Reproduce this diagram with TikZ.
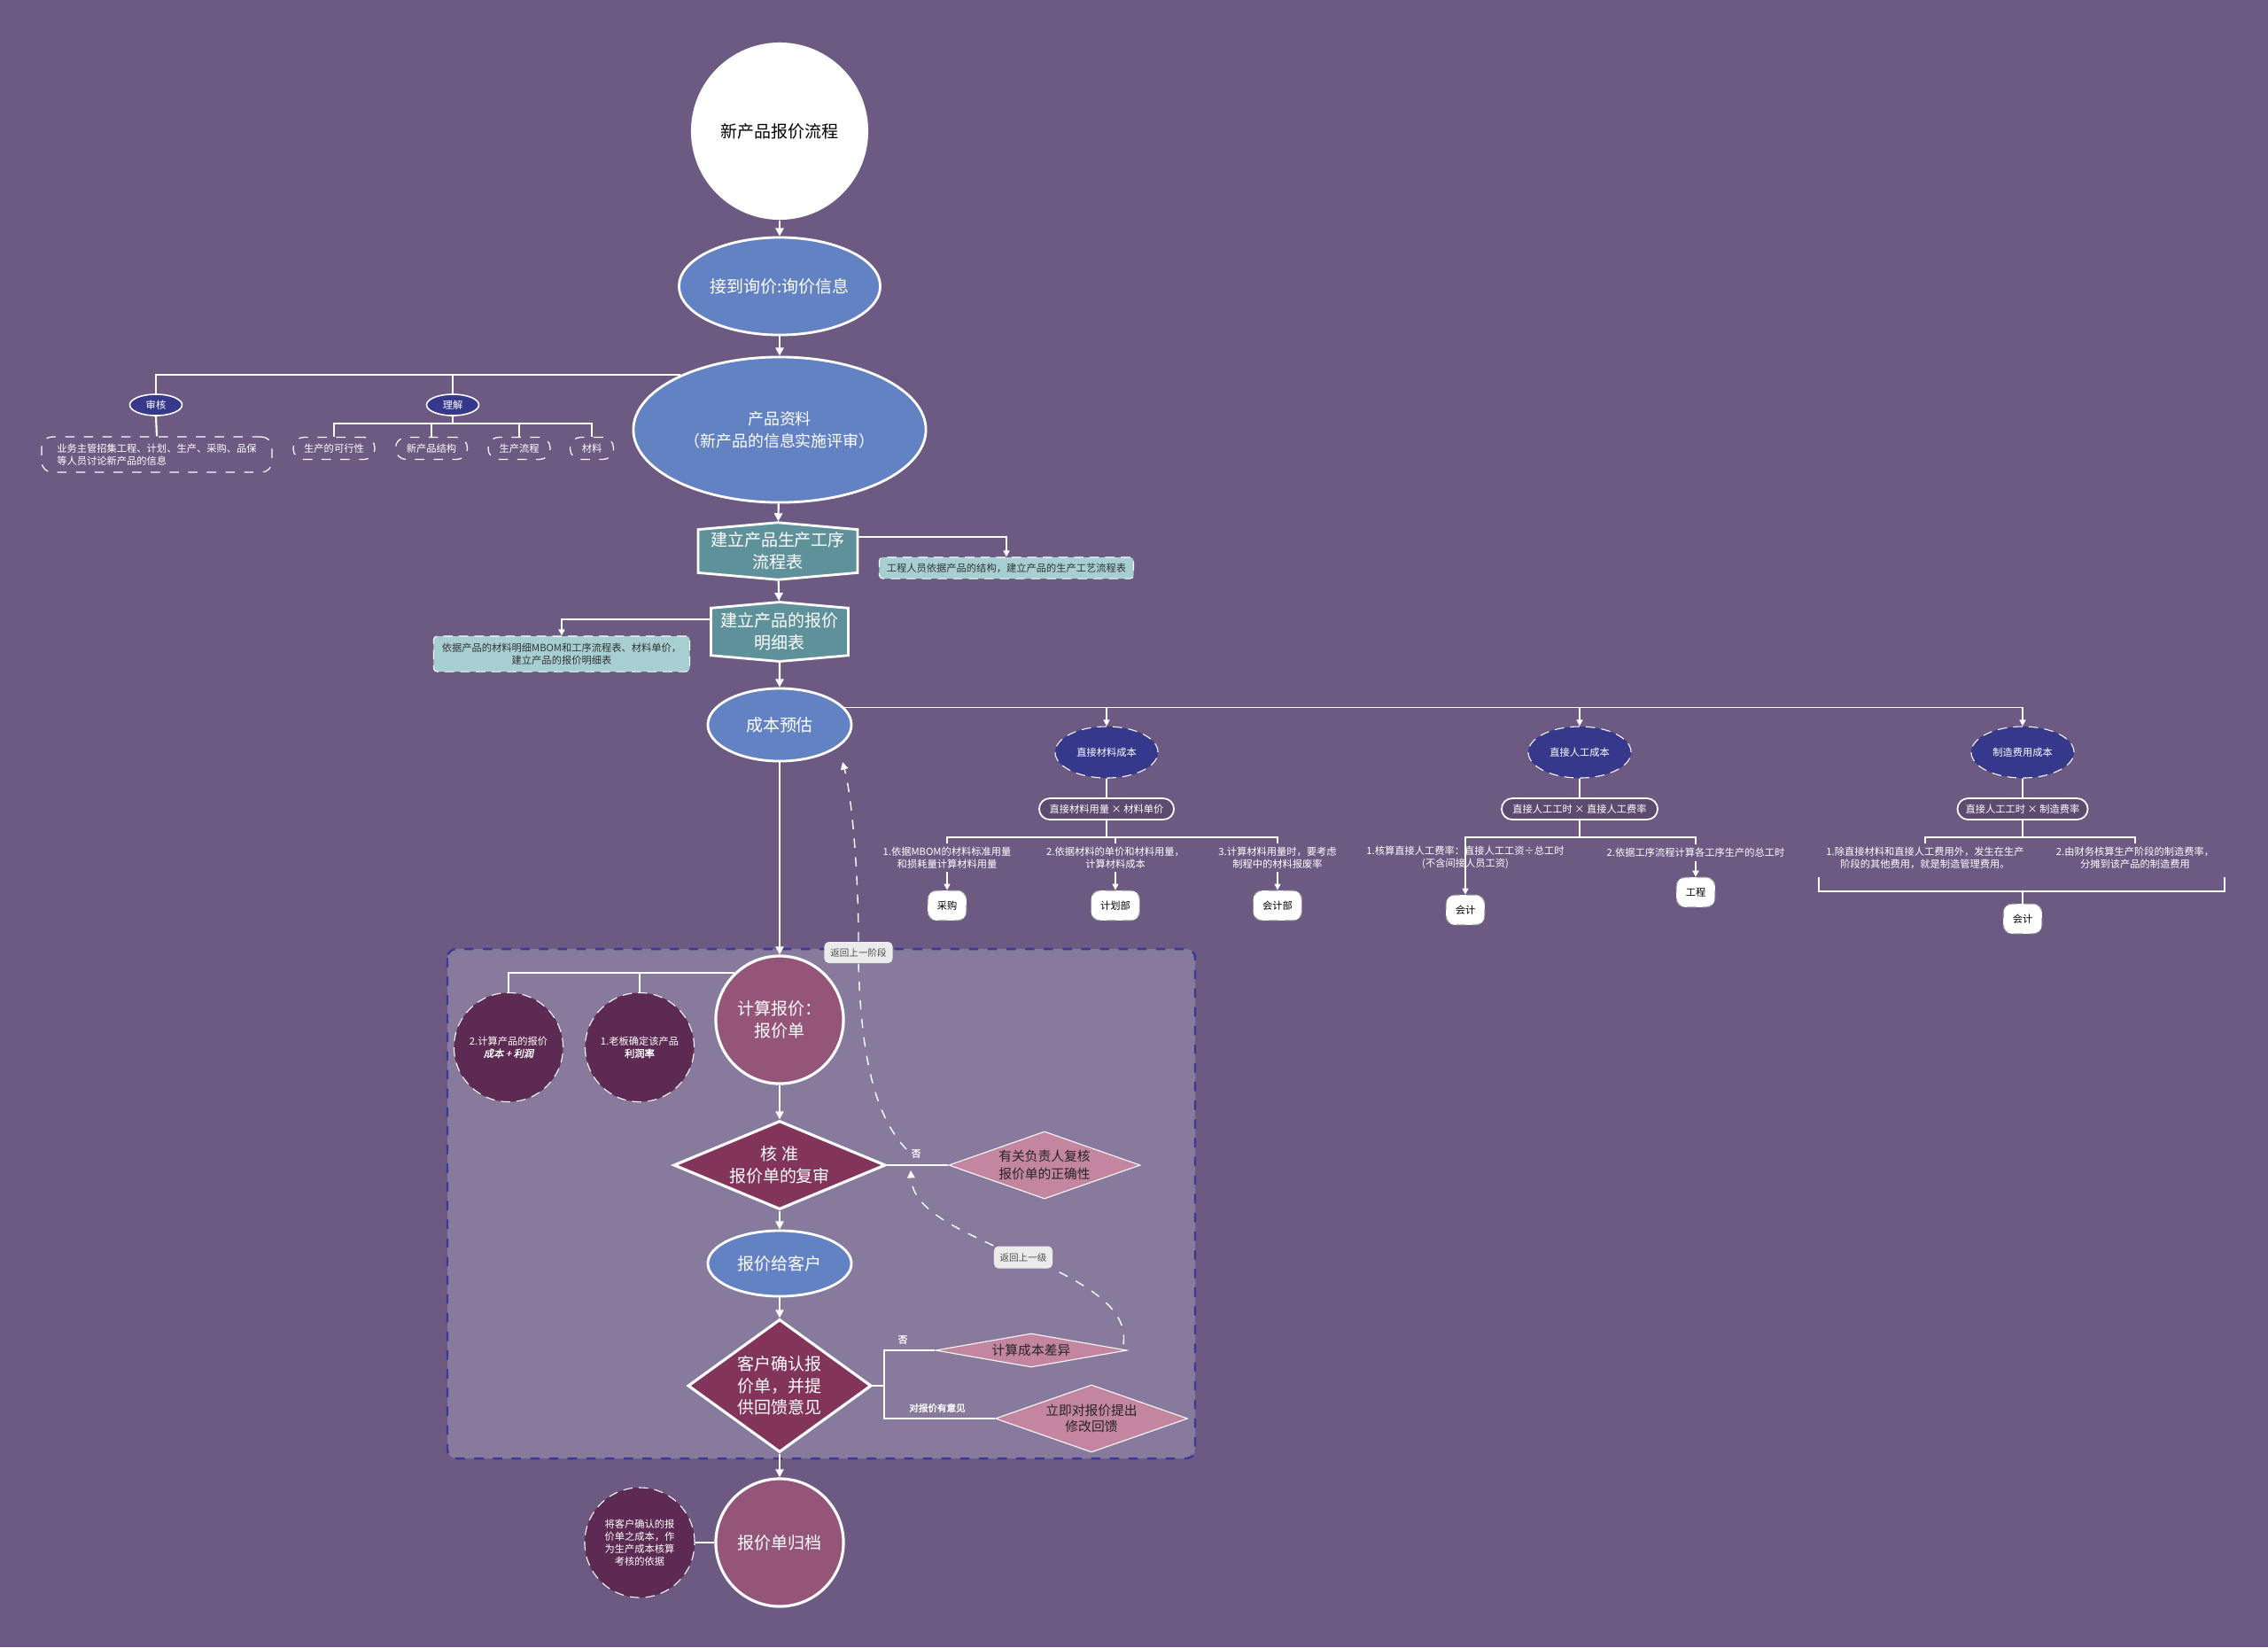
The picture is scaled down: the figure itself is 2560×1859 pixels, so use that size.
\documentclass[tikz,border=0pt]{standalone}
\usepackage{fontspec}
\setmainfont{Noto Sans CJK SC}
\newfontfamily\cjkbold[FakeBold=2]{Noto Sans CJK SC}
\newfontfamily\cjkbi[FakeBold=1.5,FakeSlant=0.2]{Noto Sans CJK SC}
\usetikzlibrary{arrows.meta,shapes.geometric,shapes.symbols}

\definecolor{bgpurple}{RGB}{108,90,130}
\definecolor{boxpurple}{RGB}{136,122,156}
\definecolor{boxline}{RGB}{58,58,150}
\definecolor{steelblue}{RGB}{99,130,196}
\definecolor{navyblue}{RGB}{54,56,140}
\definecolor{tealbox}{RGB}{95,145,155}
\definecolor{lightteal}{RGB}{167,207,209}
\definecolor{mauve}{RGB}{148,85,120}
\definecolor{plum}{RGB}{92,42,82}
\definecolor{wine}{RGB}{130,52,90}
\definecolor{pinkish}{RGB}{195,133,160}
\definecolor{pillfill}{RGB}{92,74,112}

\begin{document}
\begin{tikzpicture}[x=0.01cm,y=-0.01cm]
  \tikzset{
    big font/.style={font=\fontsize{5.4}{7}\selectfont},
    mid font/.style={font=\fontsize{4.2}{5.6}\selectfont},
    small font/.style={font=\fontsize{3.2}{3.9}\selectfont},
    main line/.style={draw=white,line width=0.6pt},
    thin line/.style={draw=white,line width=0.4pt},
    flow arrow/.style={main line,-{Triangle[length=2.6pt,width=2.6pt]}},
    thin arrow/.style={thin line,-{Triangle[length=2pt,width=2pt]}},
    return arrow/.style={draw=white,line width=0.4pt,dashed,-{Triangle[length=2.4pt,width=2.4pt]}},
    start circle/.style={circle,fill=white,minimum size=2cm,inner sep=0pt,big font,text=black},
    blue ellipse/.style={ellipse,fill=steelblue,draw=white,line width=0.8pt,inner sep=0pt,text=white,big font,align=center},
    navy ellipse/.style={ellipse,fill=navyblue,draw=white!85,densely dashed,line width=0.3pt,inner sep=0pt,text=white,small font},
    navy tag/.style={ellipse,fill=navyblue,draw=white,line width=0.45pt,inner sep=0pt,text=white,small font},
    hexa box/.style={signal,signal to=north and south,signal pointer angle=170,fill=tealbox,draw=white,line width=0.8pt,inner sep=0pt,text=white,big font,align=center},
    note box/.style={rounded corners=0.04cm,fill=lightteal,draw=white,densely dashed,line width=0.3pt,inner sep=1pt,text=black!80,small font,align=center},
    dash pill/.style={rounded corners=0.12cm,draw=white,dashed,line width=0.35pt,fill=bgpurple,inner sep=1pt,text=white,small font},
    formula pill/.style={rounded corners=0.12cm,draw=white,line width=0.5pt,fill=pillfill,inner sep=1pt,minimum height=0.24cm,text=white,small font},
    dept blob/.style={rounded corners=0.1cm,fill=white,draw=black!40,densely dashed,line width=0.3pt,inner xsep=3pt,minimum height=0.24cm,text=black,small font},
    child text/.style={text=white,small font,align=center,inner sep=1pt},
    mauve circle/.style={circle,fill=mauve,draw=white,line width=0.9pt,minimum size=1.44cm,inner sep=0pt,text=white,big font,align=center},
    plum circle/.style={circle,fill=plum,draw=white!85,densely dashed,line width=0.3pt,inner sep=0pt,text=white,small font,align=center},
    wine diamond/.style={diamond,fill=wine,draw=white,line width=0.9pt,inner sep=0pt,text=white,big font,align=center},
    pink diamond/.style={diamond,fill=pinkish,draw=white!80,line width=0.3pt,inner sep=0pt,text=black!85,mid font,align=center},
    back label/.style={rounded corners=0.05cm,fill=black!8,inner sep=1pt,text=black!70,font=\fontsize{3}{3.6}\selectfont},
    branch label/.style={text=white,inner sep=0pt,font=\fontsize{3}{3.6}\selectfont\cjkbold},
  }

  \fill[bgpurple] (0,0) rectangle (2560,1859);
  \useasboundingbox (0,0) rectangle (2560,1859);

  % quote stage frame
  \draw[boxline,dashed,fill=boxpurple,rounded corners=0.1cm,line width=0.7pt] (505,1071) rectangle (1349,1646);

  \node [start circle] (start) at (880,148) {新产品报价流程};
  \node [blue ellipse,minimum width=2.27cm,minimum height=1.1cm] (inquiry) at (880,323) {接到询价:询价信息};
  \node [blue ellipse,minimum width=3.3cm,minimum height=1.64cm,font=\fontsize{5.1}{7}\selectfont] (info) at (880,485) {产品资料\\（新产品的信息实施评审）};

  \node [navy tag,minimum width=0.59cm,minimum height=0.24cm] (review) at (176,457) {审核};
  \node [navy tag,minimum width=0.59cm,minimum height=0.24cm] (understand) at (511,457) {理解};
  \node [dash pill,minimum width=2.6cm,minimum height=0.4cm,align=left] (reviewnote) at (177,513) {业务主管招集工程、计划、生产、采购、品保\\等人员讨论新产品的信息};
  \node [dash pill,minimum width=0.92cm,minimum height=0.25cm] (u1) at (377,506) {生产的可行性};
  \node [dash pill,minimum width=0.81cm,minimum height=0.25cm] (u2) at (487,506) {新产品结构};
  \node [dash pill,minimum width=0.7cm,minimum height=0.25cm] (u3) at (586,506) {生产流程};
  \node [dash pill,minimum width=0.49cm,minimum height=0.25cm] (u4) at (668,506) {材料};

  \node [hexa box,minimum width=1.8cm,minimum height=0.62cm] (procflow) at (878,622) {建立产品生产工序\\流程表};
  \node [note box,minimum width=2.87cm,minimum height=0.24cm] (procnote) at (1136,641) {工程人员依据产品的结构，建立产品的生产工艺流程表};
  \node [hexa box,minimum width=1.55cm,minimum height=0.65cm] (quotedetail) at (880,713) {建立产品的报价\\明细表};
  \node [note box,minimum width=2.89cm,minimum height=0.4cm] (detailnote) at (634,738) {依据产品的材料明细MBOM和工序流程表、材料单价，\\建立产品的报价明细表};

  \node [blue ellipse,minimum width=1.62cm,minimum height=0.82cm] (estimate) at (880,818) {成本预估};

  \node [navy ellipse,minimum width=1.16cm,minimum height=0.58cm] (matcost) at (1249,849) {直接材料成本};
  \node [navy ellipse,minimum width=1.16cm,minimum height=0.58cm] (labcost) at (1783,849) {直接人工成本};
  \node [navy ellipse,minimum width=1.16cm,minimum height=0.58cm] (mfgcost) at (2283,849) {制造费用成本};

  \node [formula pill,minimum width=1.52cm] (matform) at (1249,913) {直接材料用量 × 材料单价};
  \node [formula pill,minimum width=1.76cm] (labform) at (1783,913) {直接人工工时 × 直接人工费率};
  \node [formula pill,minimum width=1.47cm] (mfgform) at (2283,913) {直接人工工时 × 制造费率};

  \node [child text] (mat1) at (1069,968) {1.依据MBOM的材料标准用量\\和损耗量计算材料用量};
  \node [child text] (mat2) at (1259,968) {2.依据材料的单价和材料用量，\\计算材料成本};
  \node [child text] (mat3) at (1442,968) {3.计算材料用量时，要考虑\\制程中的材料报废率};
  \node [child text] (lab1) at (1654,968) {1.核算直接人工费率：直接人工工资÷总工时\\(不含间接人员工资)};
  \node [child text] (lab2) at (1914,962) {2.依据工序流程计算各工序生产的总工时};
  \node [child text] (mfg1) at (2173,968) {1.除直接材料和直接人工费用外，发生在生产\\阶段的其他费用，就是制造管理费用。};
  \node [child text] (mfg2) at (2410,968) {2.由财务核算生产阶段的制造费率，\\分摊到该产品的制造费用};

  \node [dept blob] (buy) at (1069,1022) {采购};
  \node [dept blob] (plan) at (1259,1022) {计划部};
  \node [dept blob] (acctdept) at (1442,1022) {会计部};
  \node [dept blob] (acctone) at (1654,1027) {会计};
  \node [dept blob] (eng) at (1914,1007) {工程};
  \node [dept blob] (accttwo) at (2283,1037) {会计};
  \coordinate (mfgbrace) at (2283,1006);

  \node [mauve circle] (calcquote) at (880,1151) {计算报价：\\报价单};
  \node [plum circle,minimum size=1.23cm] (profittwo) at (574,1182) {2.计算产品的报价\\{\cjkbi 成本 + 利润}};
  \node [plum circle,minimum size=1.23cm] (profitone) at (722,1182) {1.老板确定该产品\\{\cjkbold 利润率}};
  \node [wine diamond,aspect=2.39,minimum width=2.39cm,minimum height=1cm] (approve) at (880,1315) {核\ 准\\报价单的复审};
  \node [pink diamond,aspect=2.84,minimum width=2.16cm,minimum height=0.76cm] (check) at (1179,1315) {有关负责人复核\\报价单的正确性};
  \node [blue ellipse,minimum width=1.62cm,minimum height=0.74cm] (toclient) at (880,1426) {报价给客户};
  \node [wine diamond,aspect=1.38,minimum width=2.07cm,minimum height=1.5cm] (confirm) at (880,1564) {客户确认报\\价单，并提\\供回馈意见};
  \node [pink diamond,aspect=5.7,minimum width=2.16cm,minimum height=0.38cm] (costdiff) at (1164,1524) {计算成本差异};
  \node [pink diamond,aspect=2.86,minimum width=2.17cm,minimum height=0.76cm,font=\fontsize{4.2}{5.1}\selectfont] (modify) at (1232,1601) {立即对报价提出\\修改回馈};
  \node [mauve circle] (archive) at (880,1741) {报价单归档};
  \node [plum circle,minimum size=1.24cm,font=\fontsize{3.2}{4}\selectfont] (basis) at (722,1741) {将客户确认的报\\价单之成本，作\\为生产成本核算\\考核的依据};

  \node [back label,minimum width=0.77cm,minimum height=0.24cm] (backone) at (969,1075) {返回上一阶段};
  \node [back label,minimum width=0.66cm,minimum height=0.25cm] (backtwo) at (1155,1419) {返回上一级};
  \node [branch label] (noone) at (1034,1302) {否};
  \node [branch label] (notwo) at (1019,1512) {否};
  \node [branch label] (objection) at (1058,1589) {对报价有意见};
  \coordinate (retone) at (1023,1297);
  \coordinate (retonetip) at (951,860);
  \coordinate (rettwo) at (1268,1517);
  \coordinate (rettwotip) at (1028,1321);

  % main flow
  \draw [flow arrow] (start) -- (inquiry);
  \draw [flow arrow] (inquiry) -- (info);
  \draw [flow arrow] (info) -- (procflow);
  \draw [flow arrow] (procflow) -- (quotedetail);
  \draw [flow arrow] (quotedetail) -- (estimate);
  \draw [flow arrow] (estimate) -- (calcquote);
  \draw [flow arrow] (calcquote) -- (approve);
  \draw [flow arrow] (approve) -- (toclient);
  \draw [flow arrow] (toclient) -- (confirm);
  \draw [flow arrow] (confirm) -- (archive);

  % product info branches
  \draw [main line] (info.151) -| (review.north);
  \draw [main line] (understand.north) -- (understand.north |- info.151);
  \draw [main line] (review.south) -- (reviewnote.north);
  \draw [thin line] (understand.south) -- ++(0,8) -| (u1.north);
  \draw [thin line] (understand.south) -- ++(0,8) -| (u2.north);
  \draw [thin line] (understand.south) -- ++(0,8) -| (u3.north);
  \draw [thin line] (understand.south) -- ++(0,8) -| (u4.north);

  \draw [thin arrow] ([yshift=0.16cm]procflow.east) -| (procnote.north);
  \draw [thin arrow] ([yshift=0.14cm]quotedetail.west) -| (detailnote.north);

  % cost estimate
  \draw [thin arrow] (estimate.15) -| (mfgcost.north);
  \draw [thin arrow] (estimate.15 -| matcost) -- (matcost.north);
  \draw [thin arrow] (estimate.15 -| labcost) -- (labcost.north);
  \draw [thin line] (matcost) -- (matform);
  \draw [thin line] (labcost) -- (labform);
  \draw [thin line] (mfgcost) -- (mfgform);
  \draw [thin line] (matform.south) -- ++(0,19) -| (mat1.north);
  \draw [thin line] (matform.south) -- ++(0,19) -| (mat2.north);
  \draw [thin line] (matform.south) -- ++(0,19) -| (mat3.north);
  \draw [thin line] (labform.south) -- ++(0,19) -| (lab1.north);
  \draw [thin line] (labform.south) -- ++(0,19) -| (lab2.north);
  \draw [thin line] (mfgform.south) -- ++(0,19) -| (mfg1.north);
  \draw [thin line] (mfgform.south) -- ++(0,19) -| (mfg2.north);
  \draw [thin arrow] (mat1) -- (buy);
  \draw [thin arrow] (mat2) -- (plan);
  \draw [thin arrow] (mat3) -- (acctdept);
  \draw [thin arrow] (lab1.north) -- (acctone);
  \draw [thin arrow] (lab2) -- (eng);
  \draw [thin line] (2053,990) -- (2053,1006) -- (2511,1006) -- (2511,990);
  \draw [thin line] (mfgbrace) -- (accttwo);

  % quote stage
  \draw [main line] (calcquote.134) -| (profittwo.north);
  \draw [main line] (profitone.north) -- (profitone.north |- calcquote.134);
  \draw [main line] (approve.east) -- (check.west);
  \draw [thin line] (confirm.east) -- ++(13,0) |- (costdiff.west);
  \draw [thin line] (confirm.east) -- ++(13,0) |- (modify.west);
  \draw [main line] (archive) -- (basis);

  % return paths
  \draw [white,dashed,line width=0.4pt] (retone) .. controls (990,1262) and (972,1200) .. (backone.south);
  \draw [return arrow] (backone.north) .. controls (969,990) and (962,900) .. (retonetip);
  \draw [white,dashed,line width=0.4pt] (rettwo) .. controls (1274,1478) and (1228,1452) .. (backtwo.south east);
  \draw [return arrow] (backtwo.north west) .. controls (1070,1382) and (1030,1362) .. (rettwotip);
\end{tikzpicture}
\end{document}
